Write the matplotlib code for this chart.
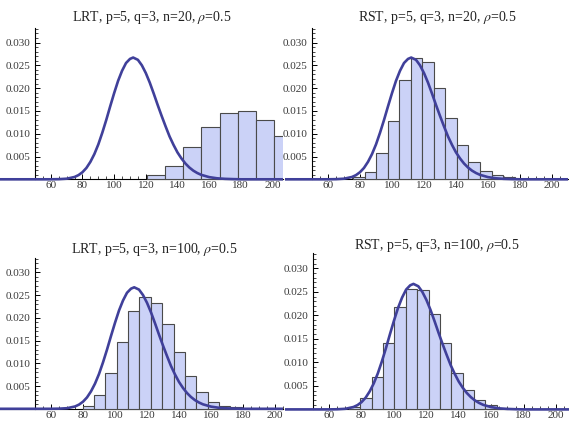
import numpy as np
import matplotlib
matplotlib.use("Agg")
import matplotlib.pyplot as plt
from matplotlib.ticker import FixedLocator

plt.rcParams['font.family'] = ['Liberation Serif', 'DejaVu Serif']
plt.rcParams['mathtext.fontset'] = 'stix'

# ---- data ----
titles = ["LRT, p=5, q=3, n=20, $\\rho$=0.5",
          "RST, p=5, q=3, n=20, $\\rho$=0.5",
          "LRT, p=5, q=3, n=100, $\\rho$=0.5",
          "RST, p=5, q=3, n=100, $\\rho$=0.5"]

edges_lrt20 = [120.6, 132.1, 143.6, 155.1, 166.6, 178.1, 189.6, 201.1, 212.6]
dens_lrt20 = [0.0009, 0.0030, 0.0070, 0.0115, 0.0145, 0.0150, 0.0131, 0.0094]

edges_rst20 = [75.8, 83.0, 90.2, 97.4, 104.6, 111.8, 119.0, 126.2, 133.4,
               140.6, 147.8, 155.0, 162.2, 169.4, 176.6]
dens_rst20 = [0.0004, 0.0017, 0.0057, 0.0128, 0.0218, 0.0266, 0.0257, 0.0200,
              0.0134, 0.0076, 0.0039, 0.0018, 0.0009, 0.0004]

edges_lrt100 = [79.8, 86.9, 94.0, 101.1, 108.2, 115.3, 122.4, 129.5, 136.6,
                143.7, 150.8, 157.9, 165.0, 172.1, 179.2]
dens_lrt100 = [0.0007, 0.0030, 0.0078, 0.0146, 0.0215, 0.0246, 0.0232, 0.0186,
               0.0124, 0.0071, 0.0038, 0.0015, 0.0007, 0.0003]

edges_rst100 = [72.3, 79.3, 86.3, 93.3, 100.3, 107.3, 114.3, 121.3, 128.3,
                135.3, 142.3, 149.3, 156.3, 163.3, 170.3]
dens_rst100 = [0.0006, 0.0024, 0.0070, 0.0141, 0.0217, 0.0257, 0.0254, 0.0202,
               0.0141, 0.0078, 0.0042, 0.0019, 0.0010, 0.0004]

curve_x = [25, 30, 35, 40, 45, 50, 55, 60, 65, 70, 75, 77.5, 80, 82.5, 85, 87.5,
           90, 92.5, 95, 97.5, 100, 102.5, 105, 107.5, 110, 112, 115, 117.5,
           120, 122.5, 125, 127.5, 130, 132.5, 135, 137.5, 140, 142.5, 145,
           147.5, 150, 152.5, 155, 160, 165, 170, 175, 180, 185, 190, 195,
           200, 205, 210]
curve_y = [0, 0, 0, 0, 0, 0, 0, 0.000003, 0.00003, 0.00013, 0.00051, 0.00092,
           0.00156, 0.0025, 0.00383, 0.00553, 0.00765, 0.0102, 0.0130, 0.0160,
           0.0189, 0.0216, 0.0238, 0.0255, 0.0264, 0.0267, 0.0262, 0.0250,
           0.0233, 0.0212, 0.0188, 0.0163, 0.0139, 0.0116, 0.0094, 0.00755,
           0.0059, 0.00458, 0.00347, 0.00259, 0.0019, 0.00138, 0.00098,
           0.00048, 0.00022, 0.0001, 0.00004, 0, 0, 0, 0, 0, 0, 0]

hists = [(edges_lrt20, dens_lrt20), (edges_rst20, dens_rst20),
         (edges_lrt100, dens_lrt100), (edges_rst100, dens_rst100)]

x_major = [60, 80, 100, 120, 140, 160, 180, 200]
y_major = [0.005, 0.010, 0.015, 0.020, 0.025, 0.030]
y_labels = ["0.005", "0.010", "0.015", "0.020", "0.025", "0.030"]

# ---- layout (pixel placement) ----
W, H = 569, 423
fig = plt.figure(figsize=(W / 100, H / 100), dpi=100)

# x50_px, px/unit x, zero_px, px/unit y, xlo, xhi, title center x, title y
specs = [
    (35.0, 1.583, 179.3, 4560, 28.0, 206.6, 152, 18),
    (312.0, 1.600, 179.3, 4560, 33.0, 210.0, 437, 18),
    (35.0, 1.600, 408.8, 4550, 28.0, 205.0, 154, 249),
    (313.0, 1.620, 409.4, 4700, 32.5, 207.8, 437, 245),
]
ytop = 0.0332
ybot = -0.0004

fill_c = (0.798, 0.825, 0.968)
edge_c = '#4a4a4a'
line_c = '#40409a'
tick_c = '#3a3a3a'

for (x50, sx, z0, sy, xlo, xhi, tcx, tcy), (edges, dens), title in zip(specs, hists, titles):
    lpx = x50 + (xlo - 50) * sx
    rpx = x50 + (xhi - 50) * sx
    tpx = z0 - ytop * sy
    bpx = z0 - ybot * sy
    ax = fig.add_axes([lpx / W, 1 - bpx / H, (rpx - lpx) / W, (bpx - tpx) / H])
    ax.set_xlim(xlo, xhi)
    ax.set_ylim(ybot, ytop)
    ax.patch.set_alpha(0)

    widths = np.diff(edges)
    ax.bar(edges[:-1], dens, width=widths, align='edge', color=fill_c,
           edgecolor=edge_c, linewidth=0.8, zorder=2)
    ax.plot(curve_x, curve_y, color=line_c, lw=1.9, zorder=3,
            solid_capstyle='butt')

    for s in ['top', 'right']:
        ax.spines[s].set_visible(False)
    ax.spines['left'].set_position(('data', 50))
    ax.spines['bottom'].set_position(('data', 0))
    ax.spines['left'].set_bounds(0, ytop)
    for s in ['left', 'bottom']:
        ax.spines[s].set_linewidth(0.8)
        ax.spines[s].set_color('black')
        ax.spines[s].set_zorder(1)

    ax.xaxis.set_major_locator(FixedLocator(x_major))
    ax.xaxis.set_minor_locator(FixedLocator([v for v in range(55, 206, 5) if v not in x_major]))
    ax.set_xticklabels([str(v) for v in x_major])
    ax.yaxis.set_major_locator(FixedLocator(y_major))
    ax.yaxis.set_minor_locator(FixedLocator([i / 1000 for i in range(1, 34) if i % 5 != 0]))
    ax.set_yticklabels(y_labels)
    ax.tick_params(which='major', direction='in', length=3.5, width=0.7,
                   labelsize=8, labelcolor=tick_c, color='black', pad=3)
    ax.tick_params(which='minor', direction='in', length=2, width=0.5, color='black')
    ax.tick_params(axis='x', which='major', pad=1.5)

    fig.text(tcx / W, 1 - tcy / H, title, ha='center', va='center',
             fontsize=10, color='#222222')

fig.savefig('out.png', dpi=100)
